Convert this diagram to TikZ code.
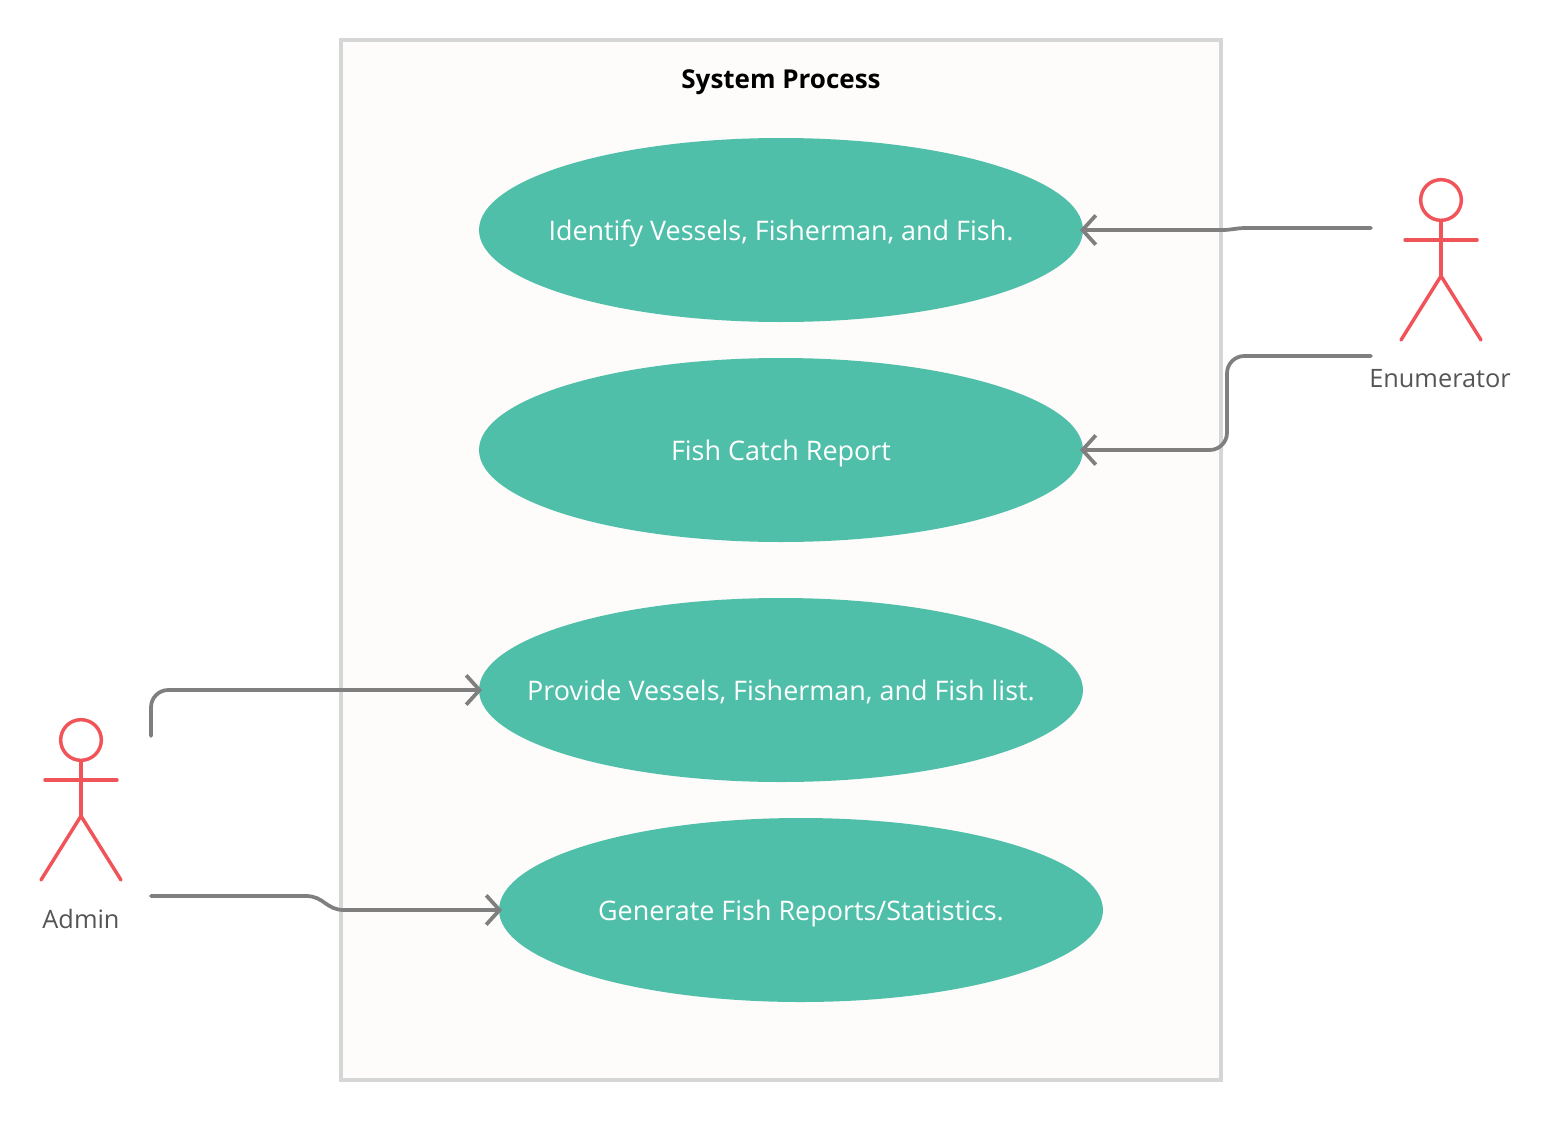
\documentclass[tikz,border=0pt]{standalone}
\usepackage{xcolor}
\usepackage{fontspec}
\setmainfont{Open Sans}
\usepackage{tikz}
\usetikzlibrary{arrows.meta, shapes.geometric}
\definecolor{usecasegreen}{HTML}{50BFA9}
\definecolor{actorred}{HTML}{F05458}
\definecolor{linkgray}{HTML}{7F7F7F}
\definecolor{framegray}{HTML}{D5D7D7}
\definecolor{framefill}{HTML}{FDFCFA}
\definecolor{labelgray}{HTML}{555555}
\newcommand{\uctext}[1]{\raisebox{-7.6pt}[0pt][0pt]{\makebox[0pt]{#1}}}
\tikzset{
	usecase/.style={ellipse, fill=usecasegreen, minimum width=453pt, minimum height=138pt, inner sep=0pt, text=white, font=\fontsize{20.2}{24}\selectfont},
	actorline/.style={draw=actorred, line width=2.6pt, line cap=round},
	actorlabel/.style={text=labelgray, font=\fontsize{19}{24}\selectfont},
	link/.style={draw=linkgray, line width=2.8pt, line cap=round, rounded corners=13pt, shorten >=-2.5pt, -{Straight Barb[length=10pt, width=22pt, line width=2.8pt]}},
}

\begin{document}
\begin{tikzpicture}[x=0.75pt, y=-0.75pt]
	\useasboundingbox (0,0) rectangle (1551,1120);
	\node[draw=framegray, fill=framefill, line width=3pt, minimum width=660pt, minimum height=780pt, inner sep=0pt] (frame) at (781,560) {};
	\node[text=black, font=\fontsize{19.5}{24}\selectfont\bfseries] (title) at (781,82) {System Process};
	
	\node[usecase] (identify) at (781,230) {\uctext{Identify Vessels, Fisherman, and Fish.}};
	\node[usecase] (report) at (781,450) {\uctext{Fish Catch Report}};
	\node[usecase] (provide) at (781,690) {\uctext{Provide Vessels, Fisherman, and Fish list.}};
	\node[usecase] (generate) at (801,910) {\uctext{Generate Fish Reports/Statistics.}};
	
	% enumerator
	\node[circle, actorline, fill=white, minimum size=30.5pt, inner sep=0pt] (enumhead) at (1441,200) {};
	\coordinate (enumhip) at (1441,276);
	\draw[actorline] (enumhead.south) -- (enumhip);
	\draw[actorline] (1405,240) -- (1477,240);
	\draw[actorline] (1401,340) -- (enumhip) -- (1481,340);
	\node[actorlabel] (enumerator) at (1440,379) {Enumerator};
	\coordinate (enumout) at (1371,228);
	\coordinate (enumoutb) at (1371,356);
	
	% admin
	\node[circle, actorline, fill=white, minimum size=30.5pt, inner sep=0pt] (adminhead) at (81,740) {};
	\coordinate (adminhip) at (81,816);
	\draw[actorline] (adminhead.south) -- (adminhip);
	\draw[actorline] (45,780) -- (117,780);
	\draw[actorline] (41,880) -- (adminhip) -- (121,880);
	\node[actorlabel] (admin) at (81,919) {Admin};
	\coordinate (adminout) at (151,736);
	\coordinate (adminoutb) at (151,896);
	
	\draw[link, sharp corners] (enumout) -- (1246,228) .. controls (1236,228) and (1232,230) .. (1222,230) -- (identify.east);
	\draw[link] (enumoutb) -- (1227,356) -- (1227,450) -- (report.east);
	\draw[link] (adminout) -- (151,690) -- (provide.west);
	\draw[link, sharp corners] (adminoutb) -- (306,896) .. controls (324,896) and (326,910) .. (344,910) -- (generate.west);
\end{tikzpicture}
\end{document}
